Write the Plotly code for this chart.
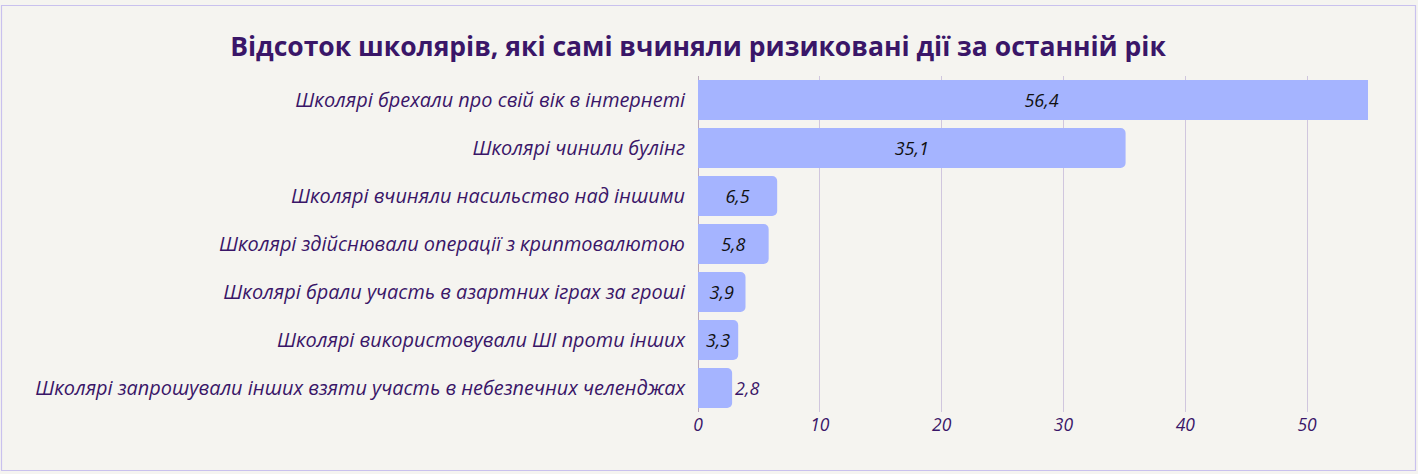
import plotly.graph_objects as go

categories = [
    "Школярі брехали про свій вік в інтернеті",
    "Школярі чинили булінг",
    "Школярі вчиняли насильство над іншими",
    "Школярі здійснювали операції з криптовалютою",
    "Школярі брали участь в азартних іграх за гроші",
    "Школярі використовували ШІ проти інших",
    "Школярі запрошували інших взяти участь в небезпечних челенджах",
]
values = [56.4, 35.1, 6.5, 5.8, 3.9, 3.3, 2.8]
text_positions = ["inside", "inside", "inside", "inside", "inside", "inside", "outside"]
tick_values = [0, 10, 20, 30, 40, 50]

title_text = "Відсоток школярів, які самі вчиняли ризиковані дії за останній рік"

FONT = "Open Sans"
PURPLE = "#3a1668"
BAR = "#a5b4ff"
BG = "#f5f4f0"

L, R, T, B = 698, 50, 76, 62
W, H = 1418, 474
pw, ph = W - L - R, H - T - B

fig = go.Figure()
fig.add_trace(go.Bar(
    y=categories,
    x=values,
    orientation="h",
    marker=dict(color=BAR, line=dict(width=0)),
    texttemplate="%{x:.1f}",
    textposition=text_positions,
    insidetextanchor="middle",
    insidetextfont=dict(family=FONT, size=18, color="#111111", style="italic"),
    outsidetextfont=dict(family=FONT, size=18, color=PURPLE, style="italic"),
    constraintext="none",
    cliponaxis=True,
    hoverinfo="skip",
))

def px_x(p):
    return (p - L) / pw

def px_y(p):
    return (H - B - p) / ph

fig.update_layout(
    width=W, height=H,
    margin=dict(l=L, r=R, t=T, b=B, autoexpand=False),
    paper_bgcolor=BG,
    plot_bgcolor=BG,
    separators=", ",
    bargap=0.17,
    barcornerradius=5,
    showlegend=False,
    title=dict(
        text=title_text,
        x=698 / W, xanchor="center", xref="container",
        y=1 - 47 / H, yanchor="middle", yref="container",
        font=dict(family=FONT, size=26.5, color=PURPLE, weight="bold"),
    ),
    xaxis=dict(
        range=[0, 55],
        tickvals=tick_values,
        showgrid=True,
        gridcolor="#d0c6de",
        gridwidth=1,
        zeroline=True,
        zerolinecolor="#b9a8b8",
        zerolinewidth=1,
        showline=False,
        ticks="",
        tickfont=dict(family=FONT, size=17.5, color=PURPLE, style="italic"),
        fixedrange=True,
    ),
    yaxis=dict(
        autorange="reversed",
        showgrid=False,
        zeroline=False,
        showline=False,
        ticks="",
        ticklabelstandoff=12,
        tickfont=dict(family=FONT, size=19.9, color=PURPLE, style="italic"),
        fixedrange=True,
    ),
    shapes=[dict(
        type="rect", xref="paper", yref="paper",
        x0=px_x(1.5), x1=px_x(1415.5), y0=px_y(470.5), y1=px_y(5.5),
        line=dict(color="#c9c1ee", width=1.2),
        fillcolor="rgba(0,0,0,0)",
        layer="below",
    )],
)

fig.write_html(
    "out.html",
    config={"displayModeBar": False},
    post_script="document.body.style.margin='0';document.body.style.overflow='hidden';",
)
